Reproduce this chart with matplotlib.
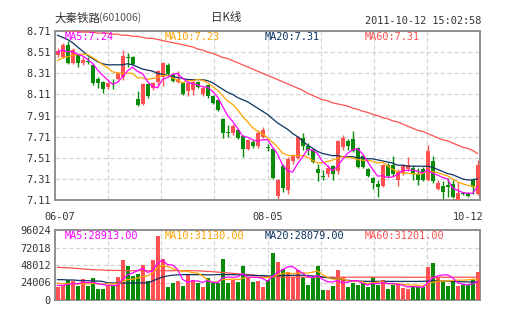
import numpy as np
import pandas as pd
import matplotlib
matplotlib.use("Agg")
import matplotlib.pyplot as plt
from matplotlib.transforms import blended_transform_factory

# daily OHLC, 2011-06-07 .. 2011-10-12
opens = [8.48, 8.46, 8.58, 8.41, 8.48, 8.41, 8.43, 8.39, 8.26, 8.23,
         8.18, 8.22, 8.26, 8.27, 8.46, 8.46, 8.07, 8.02, 8.21, 8.17,
         8.23, 8.27, 8.39, 8.30, 8.23, 8.22, 8.14, 8.15, 8.23, 8.11,
         8.20, 8.09, 8.06, 7.88, 7.75, 7.74, 7.77, 7.72, 7.59, 7.66,
         7.62, 7.71, 7.61, 7.59, 7.15, 7.43, 7.20, 7.48, 7.51, 7.70,
         7.62, 7.58, 7.40, 7.34, 7.36, 7.43, 7.38, 7.61, 7.67, 7.69,
         7.60, 7.53, 7.40, 7.32, 7.26, 7.24, 7.44, 7.44, 7.30, 7.37,
         7.40, 7.41, 7.36, 7.40, 7.30, 7.48, 7.21, 7.24, 7.25, 7.26,
         7.11, 7.18, 7.18, 7.30, 7.17]
highs = [8.55, 8.60, 8.62, 8.55, 8.49, 8.46, 8.46, 8.40, 8.27, 8.24,
         8.23, 8.26, 8.32, 8.53, 8.50, 8.47, 8.14, 8.22, 8.22, 8.23,
         8.34, 8.42, 8.41, 8.31, 8.33, 8.23, 8.23, 8.25, 8.24, 8.19,
         8.21, 8.10, 8.07, 7.89, 7.82, 7.83, 7.78, 7.73, 7.69, 7.68,
         7.77, 7.80, 7.64, 7.60, 7.31, 7.45, 7.52, 7.55, 7.72, 7.74,
         7.65, 7.60, 7.45, 7.39, 7.44, 7.44, 7.68, 7.73, 7.69, 7.76,
         7.61, 7.55, 7.41, 7.33, 7.30, 7.45, 7.46, 7.53, 7.40, 7.45,
         7.52, 7.44, 7.41, 7.42, 7.63, 7.53, 7.30, 7.29, 7.32, 7.30,
         7.28, 7.19, 7.19, 7.32, 7.49]
lows = [8.46, 8.45, 8.40, 8.40, 8.37, 8.39, 8.40, 8.20, 8.17, 8.12,
        8.16, 8.16, 8.25, 8.25, 8.37, 8.39, 8.00, 8.01, 8.08, 8.15,
        8.19, 8.19, 8.28, 8.23, 8.22, 8.10, 8.09, 8.10, 8.17, 8.09,
        8.08, 8.02, 7.95, 7.70, 7.71, 7.73, 7.69, 7.52, 7.58, 7.60,
        7.60, 7.70, 7.57, 7.31, 7.11, 7.19, 7.17, 7.45, 7.50, 7.58,
        7.54, 7.46, 7.29, 7.30, 7.33, 7.30, 7.36, 7.58, 7.58, 7.56,
        7.41, 7.41, 7.33, 7.21, 7.14, 7.23, 7.33, 7.34, 7.24, 7.35,
        7.38, 7.30, 7.25, 7.29, 7.29, 7.27, 7.20, 7.11, 7.14, 7.13,
        7.10, 7.16, 7.14, 7.17, 7.16]
closes = [8.52, 8.58, 8.41, 8.53, 8.41, 8.44, 8.42, 8.22, 8.22, 8.16,
          8.22, 8.21, 8.31, 8.47, 8.45, 8.40, 8.01, 8.21, 8.09, 8.22,
          8.33, 8.41, 8.30, 8.24, 8.26, 8.11, 8.22, 8.23, 8.18, 8.17,
          8.09, 8.03, 7.96, 7.74, 7.74, 7.81, 7.70, 7.59, 7.68, 7.62,
          7.74, 7.77, 7.60, 7.32, 7.30, 7.22, 7.50, 7.53, 7.71, 7.62,
          7.58, 7.47, 7.37, 7.33, 7.41, 7.36, 7.67, 7.70, 7.62, 7.57,
          7.42, 7.42, 7.34, 7.27, 7.23, 7.44, 7.34, 7.36, 7.38, 7.43,
          7.44, 7.36, 7.30, 7.30, 7.57, 7.29, 7.27, 7.19, 7.23, 7.14,
          7.18, 7.17, 7.15, 7.23, 7.44]
volumes = [17800, 20600, 27400, 26000, 19000, 28800, 19000, 29700, 15100, 15100,
           20600, 19000, 31500, 54900, 46600, 32900, 35700, 48000, 26500, 54900,
           87800, 55800, 17800, 23800, 26000, 19000, 35000, 27000, 23000, 17500,
           30000, 24000, 24000, 56000, 24000, 28000, 25000, 47000, 32000, 25000,
           26500, 17800, 28000, 65000, 52600, 42500, 38800, 31000, 41000, 31000,
           20000, 31000, 46600, 13700, 13700, 19000, 41000, 31000, 18000, 23000,
           20000, 23000, 18000, 31000, 20000, 28000, 15000, 20000, 23000, 16000,
           15000, 19000, 18000, 18000, 45700, 51200, 32000, 25000, 19000, 25000,
           19200, 20000, 20000, 27000, 39000]

# closes / volumes of the sessions just before the window (for the short MAs)
prev_closes = [8.32, 8.33, 8.36, 8.36, 8.38, 8.47, 8.50, 8.52, 8.54]
prev_volumes = [28000, 25000, 27000, 24000, 26000, 21000, 20000, 22000, 19200]

# long moving averages (history reaches further back than the window)
ma20 = [8.67, 8.65, 8.63, 8.60, 8.56, 8.52, 8.48, 8.45, 8.42, 8.40,
        8.39, 8.39, 8.39, 8.39, 8.40, 8.39, 8.37, 8.35, 8.34, 8.33,
        8.31, 8.30, 8.29, 8.28, 8.27, 8.26, 8.25, 8.25, 8.25, 8.25,
        8.24, 8.22, 8.19, 8.16, 8.13, 8.11, 8.08, 8.06, 8.04, 8.01,
        7.98, 7.95, 7.92, 7.88, 7.84, 7.81, 7.78, 7.74, 7.71, 7.67,
        7.63, 7.60, 7.57, 7.55, 7.54, 7.53, 7.53, 7.52, 7.52, 7.52,
        7.51, 7.51, 7.50, 7.50, 7.49, 7.48, 7.47, 7.46, 7.44, 7.44,
        7.43, 7.43, 7.43, 7.43, 7.43, 7.42, 7.40, 7.38, 7.36, 7.35,
        7.33, 7.31, 7.30, 7.30, 7.31]
ma60 = [8.72, 8.72, 8.71, 8.71, 8.71, 8.70, 8.70, 8.70, 8.69, 8.69,
        8.69, 8.68, 8.68, 8.67, 8.67, 8.66, 8.66, 8.65, 8.64, 8.64,
        8.63, 8.62, 8.61, 8.60, 8.59, 8.58, 8.57, 8.56, 8.54, 8.53,
        8.51, 8.50, 8.48, 8.46, 8.45, 8.43, 8.41, 8.39, 8.37, 8.35,
        8.33, 8.31, 8.29, 8.27, 8.25, 8.23, 8.21, 8.19, 8.17, 8.15,
        8.12, 8.10, 8.08, 8.06, 8.05, 8.03, 8.02, 8.01, 8.00, 7.98,
        7.97, 7.95, 7.94, 7.92, 7.91, 7.89, 7.88, 7.86, 7.85, 7.83,
        7.81, 7.79, 7.77, 7.76, 7.74, 7.72, 7.70, 7.68, 7.67, 7.65,
        7.63, 7.61, 7.60, 7.58, 7.55]
vol_ma20 = [27900, 27900, 27500, 27500, 27000, 26500, 26500, 26000, 26000, 25500,
            23500, 23300, 23300, 23300, 23300, 23300, 23300, 23500, 23500, 26000,
            29000, 31500, 33000, 34000, 34500, 34800, 34800, 34800, 34800, 34800,
            34500, 34500, 34800, 35000, 34800, 34800, 34500, 34500, 34000, 34000,
            33500, 33500, 33000, 33000, 33500, 33500, 33800, 33800, 34000, 34000,
            33500, 33000, 32500, 31500, 30500, 30000, 29000, 28000, 27000, 26500,
            26000, 25800, 25600, 25600, 25600, 25600, 25600, 25600, 25500, 25500,
            25500, 25500, 25500, 25600, 26000, 26200, 26200, 26000, 25800, 25500,
            25200, 25000, 24800, 24800, 24700]
vol_ma60 = [44800, 44500, 44200, 43800, 43200, 42600, 42000, 41600, 41300, 41000,
            40800, 40600, 40500, 40400, 40300, 40200, 40200, 40200, 40200, 40200,
            40200, 40200, 40200, 40200, 40200, 40200, 40200, 40200, 40000, 39600,
            39200, 38800, 38300, 37800, 37200, 36600, 36000, 35500, 35000, 34200,
            33500, 32800, 32200, 31800, 31500, 31400, 31300, 31300, 31300, 31300,
            31300, 31300, 31300, 31300, 31300, 31300, 31300, 31300, 31300, 31300,
            31300, 31300, 31300, 31300, 31300, 31300, 31300, 31300, 31300, 31300,
            31200, 31200, 31200, 31200, 31200, 31200, 31200, 31200, 31200, 31200,
            31200, 31200, 31200, 31200, 31200]

date_labels = {0: "06-07", 42: "08-05", 84: "10-12"}
price_ticks = [7.11, 7.31, 7.51, 7.71, 7.91, 8.11, 8.31, 8.51, 8.71]
vol_ticks = [0, 24006, 48012, 72018, 96024]
price_legend = ["MA5:7.24", "MA10:7.23", "MA20:7.31", "MA60:7.31"]
vol_legend = ["MA5:28913.00", "MA10:31130.00", "MA20:28079.00", "MA60:31201.00"]

RED = "#ff5151"
GREEN = "#088c08"
C_MA5 = "#ff00ff"
C_MA10 = "#ffa500"
C_MA20 = "#0d3562"
C_MA60 = "#ff5151"
MONO = "DejaVu Sans Mono"
CJK = ["Noto Sans CJK SC", "DejaVu Sans"]

o = np.array(opens)
h = np.array(highs)
l = np.array(lows)
c = np.array(closes)
v = np.array(volumes, dtype=float)
n = len(c)
x = np.arange(n)
up = c >= o
colors = np.where(up, RED, GREEN)

cs = pd.Series(prev_closes + closes)
ma5 = cs.rolling(5).mean().to_numpy()[len(prev_closes):]
ma10 = cs.rolling(10).mean().to_numpy()[len(prev_closes):]
vs = pd.Series(prev_volumes + volumes, dtype=float)
vma5 = vs.rolling(5).mean().to_numpy()[len(prev_volumes):]
vma10 = vs.rolling(10).mean().to_numpy()[len(prev_volumes):]

W, H = 505, 330
fig = plt.figure(figsize=(W / 100, H / 100), dpi=100)
fig.patch.set_facecolor("white")

ax = fig.add_axes([55 / W, 130 / H, 425 / W, 169 / H])
axv = fig.add_axes([55 / W, 30 / H, 425 / W, 70 / H])

xgrid = [-0.5 + 85 / 8 * k for k in range(1, 8)]
for a in (ax, axv):
    a.set_xlim(-0.5, n - 0.5)
    a.set_xticks(xgrid)
    a.set_xticklabels([])
    a.tick_params(length=0, pad=3, labelsize=7.4, labelcolor="#333333")
    a.grid(True, color="#d4d4d4", linestyle=(0, (3.5, 2)), linewidth=0.9)
    a.set_axisbelow(True)
    for s in a.spines.values():
        s.set_color("#8f8f8f")
        s.set_linewidth(1.4)

# candles
ax.vlines(x, l, h, colors=colors, linewidth=1, zorder=2)
body = np.maximum(np.abs(c - o), 0.008)
ax.bar(x, body, bottom=np.minimum(o, c), width=0.8, color=colors,
       linewidth=0, zorder=3)
ax.plot(x, ma60, color=C_MA60, lw=0.9, zorder=4)
ax.plot(x, ma20, color=C_MA20, lw=0.9, zorder=4)
ax.plot(x, ma10, color=C_MA10, lw=0.9, zorder=4)
ax.plot(x, ma5, color=C_MA5, lw=0.9, zorder=4)
ax.set_ylim(price_ticks[0], price_ticks[-1])
ax.set_yticks(price_ticks)
ax.set_yticklabels([f"{t:.2f}" for t in price_ticks], family=MONO)

# volume
axv.bar(x, v, width=0.8, color=colors, linewidth=0, zorder=3)
axv.plot(x, vol_ma60, color=C_MA60, lw=0.9, zorder=4)
axv.plot(x, vol_ma20, color=C_MA20, lw=0.9, zorder=4)
axv.plot(x, vma10, color=C_MA10, lw=0.9, zorder=4)
axv.plot(x, vma5, color=C_MA5, lw=0.9, zorder=4)
axv.set_ylim(vol_ticks[0], vol_ticks[-1])
axv.set_yticks(vol_ticks)
axv.set_yticklabels([str(t) for t in vol_ticks], family=MONO)

# date labels under the price panel
tr = blended_transform_factory(ax.transData, ax.transAxes)
for i, txt in date_labels.items():
    ha = "left" if i == 0 else ("right" if i == n - 1 else "center")
    xi = -2.6 if i == 0 else (i + 1.2 if i == n - 1 else i)
    ax.text(xi, -0.07, txt, transform=tr, ha=ha, va="top",
            family=MONO, fontsize=7.4, color="#333333")


def px(xp, yp):
    return xp / W, 1 - yp / H


# MA legends
line_colors = [C_MA5, C_MA10, C_MA20, C_MA60]
for k, (txt, col) in enumerate(zip(price_legend, line_colors)):
    fig.text(*px(65 + 100 * k, 37), txt, color=col, family=MONO,
             fontsize=7.4, va="center", ha="left")
for k, (txt, col) in enumerate(zip(vol_legend, line_colors)):
    fig.text(*px(65 + 100 * k, 236), txt, color=col, family=MONO,
             fontsize=7.4, va="center", ha="left")

# header
fig.text(*px(54, 18), "大秦铁路", family=CJK,
         fontsize=8.3, color="#333333", va="center", ha="left")
fig.text(*px(99, 18), "(601006)", family=CJK,
         fontsize=7.6, color="#555555", va="center", ha="left")
fig.text(*px(226, 18), "日K线", family=CJK,
         fontsize=8.3, color="#333333", va="center", ha="center")
fig.text(*px(481, 21), "2011-10-12 15:02:58", family=MONO,
         fontsize=7.4, color="#333333", va="center", ha="right")

fig.savefig("out.png", dpi=100, facecolor="white")
